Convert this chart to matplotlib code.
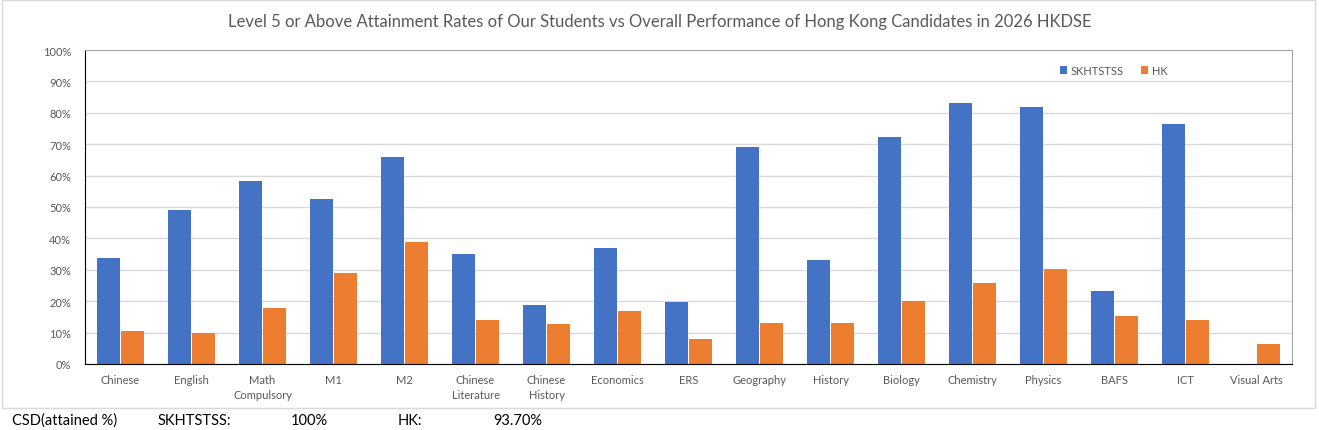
import matplotlib
matplotlib.use("Agg")
import matplotlib.pyplot as plt
import numpy as np
from matplotlib.patches import Rectangle

# 数据
subjects = ["Chinese", "English", "Math\nCompulsory", "M1", "M2", "Chinese\nLiterature",
            "Chinese\nHistory", "Economics", "ERS", "Geography", "History", "Biology",
            "Chemistry", "Physics", "BAFS", "ICT", "Visual Arts"]
school = [33.8, 49.0, 58.3, 52.5, 65.9, 35.0, 18.8, 36.9, 19.7, 69.1, 33.1, 72.3,
          83.1, 81.8, 23.2, 76.4, 0.0]
hk = [10.5, 9.9, 17.8, 29.0, 38.9, 14.0, 12.7, 16.9, 8.0, 13.1, 13.1, 20.1,
      25.8, 30.3, 15.3, 14.0, 6.4]
yticks = list(range(0, 101, 10))
csd_school = "100%"
csd_hk = "93.70%"

plt.rcParams["font.family"] = ["Lato", "DejaVu Sans"]

BLUE = "#4472C4"
ORANGE = "#ED7D31"
GREY_TXT = "#595959"

fig = plt.figure(figsize=(13.19, 4.31), dpi=100)
ax = fig.add_axes([85 / 1319, 66 / 431, 1207 / 1319, 314 / 431])

x = np.arange(len(subjects))
w = 0.324
ax.bar(x - 0.176, school, width=w, color=BLUE, label="SKHTSTSS", zorder=3)
ax.bar(x + 0.176, hk, width=w, color=ORANGE, label="HK", zorder=3)

ax.set_xlim(-0.5, len(subjects) - 0.5)
ax.set_ylim(0, 100)
ax.set_yticks(yticks)
ax.set_yticklabels([f"{v}%" for v in yticks], fontsize=8, color=GREY_TXT)
ax.set_xticks(x)
ax.set_xticklabels(subjects, fontsize=8, color=GREY_TXT, linespacing=1.5)
ax.tick_params(axis="both", length=0)
ax.tick_params(axis="y", pad=10)
ax.tick_params(axis="x", pad=7)

ax.grid(axis="y", color="#d9d9d9", linewidth=1, zorder=0)
ax.spines["left"].set_color("black")
ax.spines["bottom"].set_color("black")
ax.spines["bottom"].set_zorder(4)
for s in ("top", "right"):
    ax.spines[s].set_color("#a6a6a6")

leg = ax.legend(loc="upper right", bbox_to_anchor=(0.905, 0.985), ncol=2, frameon=False,
                fontsize=8, handlelength=0.7, handleheight=0.7, handletextpad=0.3,
                columnspacing=1.5, labelcolor=GREY_TXT)

fig.text(0.5, 1 - 22 / 431, "Level 5 or Above Attainment Rates of Our Students vs Overall "
         "Performance of Hong Kong Candidates in 2026 HKDSE",
         ha="center", va="center", fontsize=12, color=GREY_TXT)

# 外边框
fig.patches.append(Rectangle((2 / 1319, 22 / 431), 1313 / 1319, 408 / 431,
                             transform=fig.transFigure, fill=False,
                             edgecolor="#d9d9d9", linewidth=1))

# 底部 CSD 文字
yb = 1 - 421 / 431
fig.text(12 / 1319, yb, "CSD(attained %)", fontsize=10.5, va="center")
fig.text(158 / 1319, yb, "SKHTSTSS:", fontsize=10.5, va="center")
fig.text(291 / 1319, yb, csd_school, fontsize=10.5, va="center")
fig.text(398 / 1319, yb, "HK:", fontsize=10.5, va="center")
fig.text(493 / 1319, yb, csd_hk, fontsize=10.5, va="center")

fig.savefig("out.png", dpi=100)
